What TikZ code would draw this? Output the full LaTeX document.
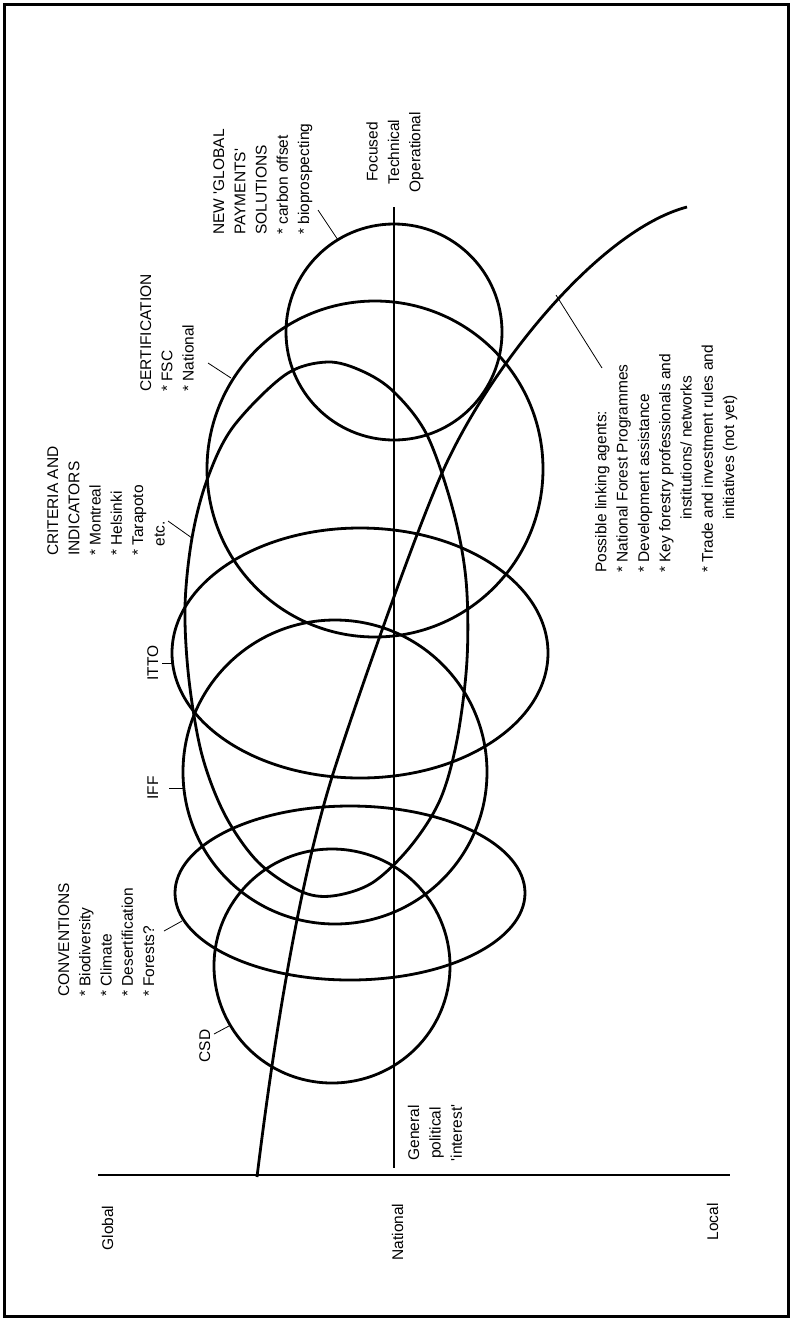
\documentclass[tikz,border=0pt]{standalone}
\usepackage{fontspec}
\setmainfont{Liberation Sans}
\newcommand{\sq}{\textquotesingle}
\begin{document}
\begin{tikzpicture}[x=1pt,y=-1pt,
  dline/.style={line width=2.8pt,line join=round},
  lline/.style={line width=0.8pt},
  rlabel/.style={rotate=90,inner sep=0pt,font=\fontsize{15.5}{21.3}\selectfont},
  rblock/.style={rlabel,align=left,anchor=north west},
  rcblock/.style={rlabel,align=center,anchor=center},
  rtag/.style={rlabel,anchor=base}]
\useasboundingbox (0,0) rectangle (790,1318);
\draw[line width=3pt] (4,4) rectangle (788,1316);

% axes
\coordinate (vtop) at (394,207);
\coordinate (vbot) at (394,1168);
\coordinate (hl) at (98,1175);
\coordinate (hr) at (730,1175);
\draw[dline] (vtop) -- (vbot);
\draw[dline] (hl) -- (hr);

% circles / ellipses
\draw[dline] (394,332) circle [radius=108];
\draw[dline] (375,469) circle [radius=168];
\draw[dline] (360,653) ellipse [x radius=188, y radius=125];
\draw[dline] (335,772) circle [radius=152];
\draw[dline] (350,893) ellipse [x radius=175, y radius=87];
\draw[dline] (332,966) ellipse [x radius=118, y radius=117];
% criteria and indicators teardrop
\draw[dline] plot[smooth cycle, tension=0.55] coordinates {(327,362) (362,371) (394,392) (427,435) (453,510) (466,580) (467,660) (457,740) (440,800) (410,847) (372,883) (332,896) (300,891) (258,862) (225,815) (202,755) (189,680) (185,607) (192,538) (207,480) (233,427) (285,375)};
% linking curve
\coordinate (lkS) at (257,1177);
\coordinate (lkM1) at (332,777);
\coordinate (lkM2) at (442,473);
\coordinate (lkE) at (687,207);
\draw[dline] (lkS) .. controls (275,1030) and (300,880) .. (lkM1)
  .. controls (352,713) and (415,533) .. (lkM2)
  .. controls (490,365) and (600,230) .. (lkE);

% labels
\node[rblock] (conv) at (58,997) {CONVENTIONS\\* Biodiversity\\* Climate\\* Desertification\\* Forests?};
\node[rblock] (crit) at (47,556) {CRITERIA AND\\INDICATORS\\* Montreal\\* Helsinki\\* Tarapoto\\\hspace*{0.6em}etc.};
\node[rblock] (cert) at (140,392) {CERTIFICATION\\* FSC\\* National};
\node[rblock] (ngp) at (213,235) {NEW \sq GLOBAL\\PAYMENTS\sq\\SOLUTIONS\\* carbon offset\\* bioprospecting};
\node[rblock] (link) at (595,573) {Possible linking agents:\\* National Forest Programmes\\* Development assistance\\* Key forestry professionals and\\\hspace*{53pt}institutions/ networks\\* Trade and investment rules and\\\hspace*{53pt}initiatives (not yet)};
\node[rcblock] (foc) at (395,152) {Focused\\Technical\\Operational};
\node[rcblock] (gen) at (435,1133) {General\\political\\\sq interest\sq};
\node[rtag] (iff) at (158,788) {IFF};
\node[rtag] (itto) at (158,663) {ITTO};
\node[rtag] (csd) at (210,1046) {CSD};
\node[rtag] (glob) at (113,1228) {Global};
\node[rtag] (nat) at (403,1232) {National};
\node[rtag] (loc) at (718,1222) {Local};

% leaders
\coordinate (csdA) at (214,1034); \coordinate (csdB) at (229,1026);
\coordinate (convA) at (164,931); \coordinate (convB) at (182,921);
\coordinate (iffA) at (169,788); \coordinate (iffB) at (183,788);
\coordinate (ittoA) at (162,663); \coordinate (ittoB) at (172,663);
\coordinate (critA) at (168,521); \coordinate (critB) at (192,538);
\coordinate (certA) at (208,363); \coordinate (certB) at (231,378);
\coordinate (ngpA) at (318,210); \coordinate (ngpB) at (338,240);
\coordinate (linkA) at (602,368); \coordinate (linkB) at (556,295);
\draw[lline] (csdA) -- (csdB);
\draw[lline] (convA) -- (convB);
\draw[lline] (iffA) -- (iffB);
\draw[lline] (ittoA) -- (ittoB);
\draw[lline] (critA) -- (critB);
\draw[lline] (certA) -- (certB);
\draw[lline] (ngpA) -- (ngpB);
\draw[lline] (linkA) -- (linkB);
\end{tikzpicture}
\end{document}
